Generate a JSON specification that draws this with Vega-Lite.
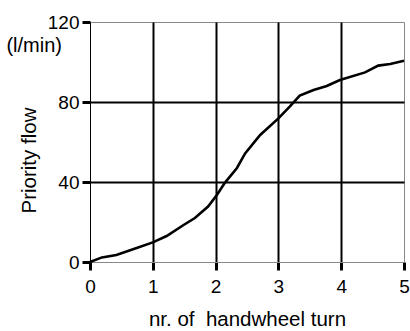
{
  "$schema": "https://vega.github.io/schema/vega-lite/v6.json",
  "width": 314,
  "height": 240,
  "autosize": "none",
  "padding": {"left": 90, "top": 22, "right": 6, "bottom": 69},
  "config": {
    "font": "Liberation Sans",
    "view": {"stroke": "#888888", "strokeWidth": 1},
    "axis": {
      "labelFont": "Liberation Sans",
      "titleFont": "Liberation Sans",
      "labelFontSize": 19,
      "titleFontSize": 20.5,
      "titleFontWeight": "normal",
      "labelColor": "#000000",
      "titleColor": "#000000",
      "tickColor": "#000000",
      "tickSize": 8,
      "gridColor": "#000000",
      "gridWidth": 2
    }
  },
  "data": {
    "values": [
      {"turns": 0.0, "flow": 0.0},
      {"turns": 0.19, "flow": 2.3},
      {"turns": 0.42, "flow": 3.5},
      {"turns": 0.72, "flow": 6.8},
      {"turns": 1.0, "flow": 9.8},
      {"turns": 1.22, "flow": 13.0},
      {"turns": 1.49, "flow": 18.5},
      {"turns": 1.67, "flow": 22.0},
      {"turns": 1.88, "flow": 27.7},
      {"turns": 2.02, "flow": 33.5},
      {"turns": 2.15, "flow": 39.7},
      {"turns": 2.34, "flow": 47.0},
      {"turns": 2.47, "flow": 54.3},
      {"turns": 2.71, "flow": 63.5},
      {"turns": 3.0, "flow": 71.8},
      {"turns": 3.18, "flow": 77.7},
      {"turns": 3.34, "flow": 83.2},
      {"turns": 3.56, "flow": 86.0},
      {"turns": 3.77, "flow": 88.0},
      {"turns": 3.98, "flow": 91.0},
      {"turns": 4.38, "flow": 94.8},
      {"turns": 4.59, "flow": 98.2},
      {"turns": 4.78, "flow": 99.0},
      {"turns": 5.0, "flow": 100.6}
    ]
  },
  "layer": [
    {
      "mark": {"type": "line", "color": "#000000", "strokeWidth": 2.6},
      "encoding": {
        "x": {
          "field": "turns",
          "type": "quantitative",
          "scale": {"domain": [0, 5], "nice": false, "zero": false},
          "axis": {
            "title": "nr. of\u00a0 handwheel turn",
            "values": [0, 0.5, 1, 1.5, 2, 2.5, 3, 3.5, 4, 4.5, 5],
            "labelExpr": "datum.value % 1 == 0 ? format(datum.value, 'd') : ''",
            "labelPadding": 7,
            "labelFlush": false,
            "domainColor": "#888888",
            "tickWidth": {"condition": {"test": "datum.value % 1 == 0", "value": 3}, "value": 1.5},
            "grid": true,
            "gridOpacity": {"condition": {"test": "datum.value > 0 && datum.value < 5 && datum.value % 1 == 0", "value": 1}, "value": 0},
            "titlePadding": 13
          }
        },
        "y": {
          "field": "flow",
          "type": "quantitative",
          "scale": {"domain": [0, 120], "nice": false},
          "axis": {
            "title": "Priority flow",
            "values": [0, 20, 40, 60, 80, 100, 120],
            "labelExpr": "datum.value % 40 == 0 ? format(datum.value, 'd') : ''",
            "labelPadding": 3,
            "labelFlush": false,
            "domainColor": "#000000",
            "tickWidth": {"condition": {"test": "datum.value % 40 == 0", "value": 3}, "value": 1.5},
            "grid": true,
            "gridOpacity": {"condition": {"test": "datum.value > 0 && datum.value < 120 && datum.value % 40 == 0", "value": 1}, "value": 0},
            "titlePadding": 8,
            "titleY": 138
          }
        }
      }
    },
    {
      "data": {"values": [{"unit": "(l/min)", "turns": 0, "flow": 108}]},
      "mark": {"type": "text", "align": "right", "baseline": "middle", "dx": -28, "fontSize": 20, "font": "Liberation Sans", "color": "#000000"},
      "encoding": {
        "x": {"field": "turns", "type": "quantitative"},
        "y": {"field": "flow", "type": "quantitative"},
        "text": {"field": "unit"}
      }
    }
  ]
}
